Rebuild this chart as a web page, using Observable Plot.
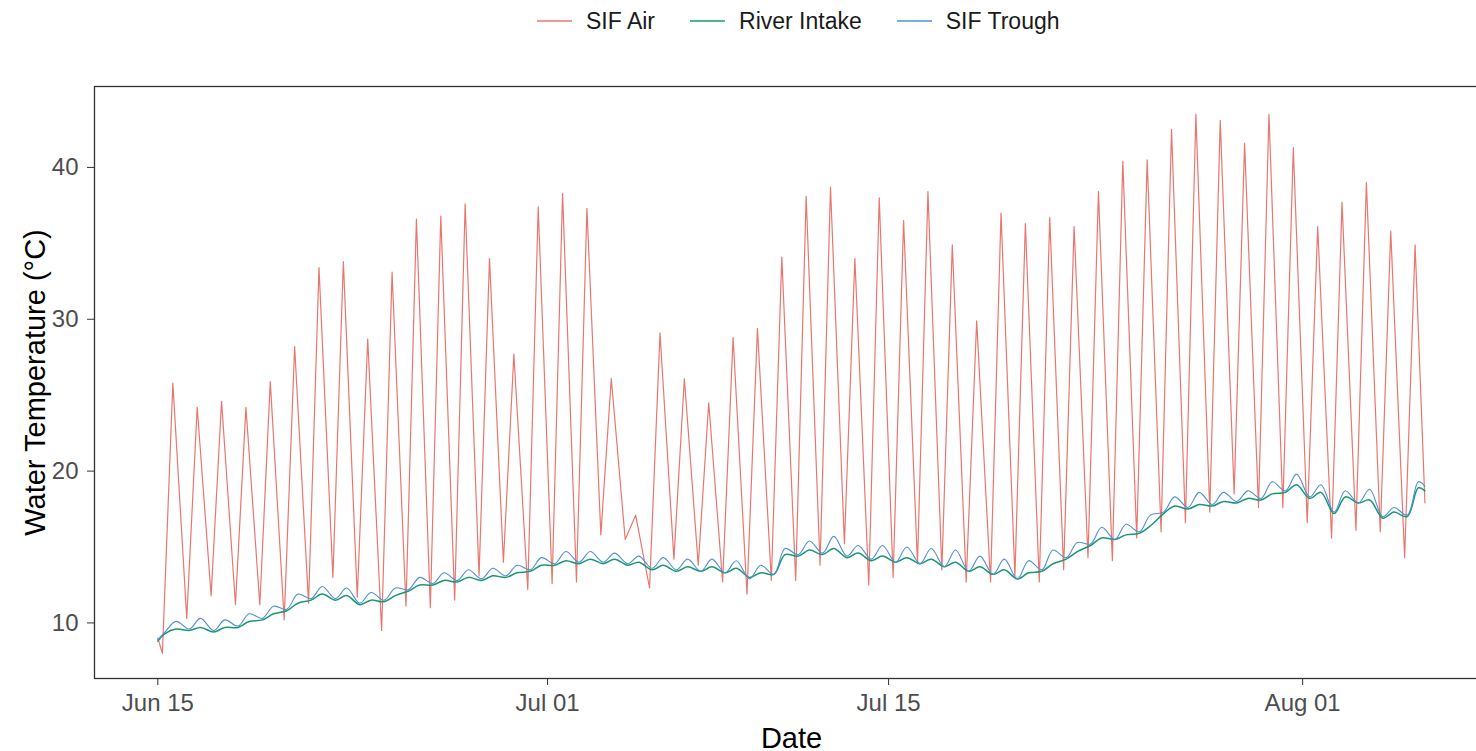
<!DOCTYPE html>
<html><head><meta charset="utf-8">
<script src="https://cdn.jsdelivr.net/npm/d3@7"></script>
<script src="https://cdn.jsdelivr.net/npm/@observablehq/plot@0.6"></script>
<style>
html,body{margin:0;padding:0;background:#fff;overflow:hidden;width:1476px;height:751px}
#legend{height:42px;width:1476px;box-sizing:border-box;padding-left:537px;display:flex;align-items:center;justify-content:flex-start;font-family:"Liberation Sans",Arial,sans-serif;font-size:23px;color:#1a1a1a}
.item{display:flex;align-items:center;margin-right:35px}
.item svg{margin-right:14px}
#chart svg{max-width:none !important}
</style></head><body>
<div id="legend"></div>
<div id="chart"></div>
<script>
// ---- data ----
const seriesNames = ["SIF Air", "River Intake", "SIF Trough"];
const seriesColors = ["#E8776F", "#1A9873", "#4F8FD8"];
const firstDay = "2021-06-15";
const lastTime = "2021-08-06T00:30:00Z";
const xTickDates = ["2021-06-15", "2021-07-01", "2021-07-15", "2021-08-01"];
const xTickLabels = ["Jun 15", "Jul 01", "Jul 15", "Aug 01"];
const yTicks = [10, 20, 30, 40];

// daily air minimum (early morning) and maximum (afternoon), Jun 15 .. Aug 5
const airMin = [8.0,10.3,11.8,11.2,11.2,10.2,11.3,13.0,11.7,9.5,
  11.1,11.0,11.5,13.1,14.0,12.2,12.6,12.7,15.8,15.5,
  12.3,14.2,13.8,12.7,11.9,12.8,12.8,13.8,15.2,12.5,
  13.0,13.9,13.5,12.7,12.7,13.1,12.7,13.5,14.3,14.1,
  15.6,16.0,16.6,17.3,18.5,17.6,17.6,16.6,15.6,16.1,
  16.0,14.3];
const airMax = [25.8,24.2,24.6,24.2,25.9,28.2,33.4,33.8,28.7,33.1,
  36.6,36.8,37.6,34.0,27.7,37.4,38.3,37.3,26.1,17.1,
  29.1,26.1,24.5,28.8,29.4,34.1,38.1,38.7,34.0,38.0,
  36.5,38.4,34.9,29.9,37.0,36.3,36.7,36.1,38.4,40.4,
  40.5,42.5,43.5,43.1,41.6,43.5,41.3,36.1,37.7,39.0,
  35.8,34.9];
// daily water lows (morning) and highs (evening)
const riverLow = [9.3,9.5,9.4,9.7,10.2,10.8,11.5,11.5,11.2,11.4,
  12.1,12.5,12.7,12.8,13.0,13.4,13.8,13.9,13.9,13.8,
  13.5,13.4,13.4,13.3,13.0,13.2,14.4,14.5,14.3,14.1,
  14.0,13.9,13.7,13.4,13.2,12.9,13.4,14.2,15.1,15.5,
  15.9,17.2,17.5,17.7,17.9,18.1,18.6,18.2,17.2,17.9,
  16.9,17.0];
const riverHigh = [9.6,9.7,9.7,10.1,10.6,11.3,11.9,11.8,11.5,11.8,
  12.5,12.8,13.0,13.1,13.3,13.8,14.1,14.2,14.2,14.0,
  13.8,13.7,13.7,13.6,13.3,14.5,14.8,14.9,14.6,14.4,
  14.3,14.2,14.0,13.7,13.5,13.3,13.9,14.7,15.6,15.8,
  16.4,17.7,17.8,18.0,18.2,18.5,19.1,18.6,18.3,18.1,
  17.3,18.9];
const troughLow = [9.4,9.6,9.5,9.8,10.3,10.9,11.6,11.6,11.3,11.5,
  12.2,12.6,12.8,12.9,13.1,13.5,13.9,14.0,14.0,13.9,
  13.6,13.5,13.4,13.3,12.9,13.2,14.5,14.6,14.4,14.2,
  14.0,13.9,13.7,13.4,13.2,12.9,13.5,14.3,15.2,15.5,
  16.0,17.3,17.6,17.8,18.0,18.2,18.7,18.3,17.3,17.9,
  17.0,17.1];
const troughHigh = [10.1,10.3,10.2,10.6,11.1,11.9,12.4,12.3,12.0,12.3,
  13.0,13.3,13.5,13.6,13.8,14.3,14.7,14.7,14.6,14.4,
  14.3,14.2,14.2,14.1,13.8,14.9,15.4,15.7,15.1,15.1,
  15.0,14.9,14.8,14.4,14.2,14.1,14.8,15.3,16.3,16.5,
  17.1,18.3,18.6,18.6,18.7,19.3,19.8,19.1,18.7,18.8,
  17.6,19.3];
const startValues = [9.0, 8.8, 8.9];
const endValues = [17.9, 18.7, 19.0];

// ---- build rows ----
const H = 3600e3;
const t0 = new Date(firstDay + "T00:00:00Z").getTime();
const tEnd = new Date(lastTime).getTime();
function buildRows(name, lows, highs, lowHour, highHour, startV, endV) {
  const rows = [{date: new Date(t0), value: startV, series: name}];
  lows.forEach((v, i) => {
    rows.push({date: new Date(t0 + (i * 24 + lowHour) * H), value: v, series: name});
    rows.push({date: new Date(t0 + (i * 24 + highHour) * H), value: highs[i], series: name});
  });
  rows.push({date: new Date(tEnd), value: endV, series: name});
  return rows;
}
const airRows = buildRows(seriesNames[0], airMin, airMax, 4.5, 14.8, startValues[0], endValues[0]);
const riverRows = buildRows(seriesNames[1], riverLow, riverHigh, 7, 18, startValues[1], endValues[1]);
const troughRows = buildRows(seriesNames[2], troughLow, troughHigh, 7, 18, startValues[2], endValues[2]);

// ---- legend ----
const legend = document.getElementById("legend");
seriesNames.forEach((n, i) => {
  const it = document.createElement("div");
  it.className = "item";
  it.innerHTML = `<svg width="35" height="10"><line x1="0" x2="35" y1="5" y2="5" stroke="${seriesColors[i]}" stroke-width="1.6"/></svg><span>${n}</span>`;
  legend.appendChild(it);
});

// ---- chart ----
const D = 24 * H;
const xTicks = xTickDates.map(s => new Date(s + "T00:00:00Z"));
const font = '"Liberation Sans", Arial, sans-serif';
const chart = Plot.plot({
  width: 1495,
  height: 709,
  marginTop: 44,
  marginBottom: 73,
  marginLeft: 94,
  marginRight: 7,
  style: {fontFamily: font, background: "#fff", maxWidth: "none", overflow: "visible"},
  x: {type: "utc", domain: [new Date(t0 - 2.6 * D), new Date(t0 + 54.63 * D)]},
  y: {domain: [6.34, 45.33]},
  color: {domain: seriesNames, range: seriesColors},
  marks: [
    Plot.line(airRows, {x: "date", y: "value", stroke: "series", strokeWidth: 1.2, clip: true}),
    Plot.line(riverRows, {x: "date", y: "value", stroke: "series", strokeWidth: 1.5, curve: "catmull-rom", clip: true}),
    Plot.line(troughRows, {x: "date", y: "value", stroke: "series", strokeWidth: 1.1, curve: "catmull-rom", clip: true}),
    Plot.frame({stroke: "#333", strokeWidth: 1.3}),
    Plot.axisX({ticks: xTicks, tickFormat: d => xTickLabels[xTicks.findIndex(t => +t === +d)], tickSize: 7, tickPadding: 8, fontSize: 24, stroke: "#333", fill: "#4d4d4d", label: null}),
    Plot.axisY({ticks: yTicks, tickSize: 7, tickPadding: 9, fontSize: 24, stroke: "#333", fill: "#4d4d4d", label: null}),
    Plot.text(["Date"], {frameAnchor: "bottom", dy: 60, fontSize: 29, fill: "#000", lineAnchor: "middle", textAnchor: "middle"}),
    Plot.text(["Water Temperature (°C)"], {frameAnchor: "left", dx: -59, rotate: -90, fontSize: 29, fill: "#000", lineAnchor: "middle", textAnchor: "middle"})
  ]
});
document.getElementById("chart").appendChild(chart);
</script>
</body></html>
